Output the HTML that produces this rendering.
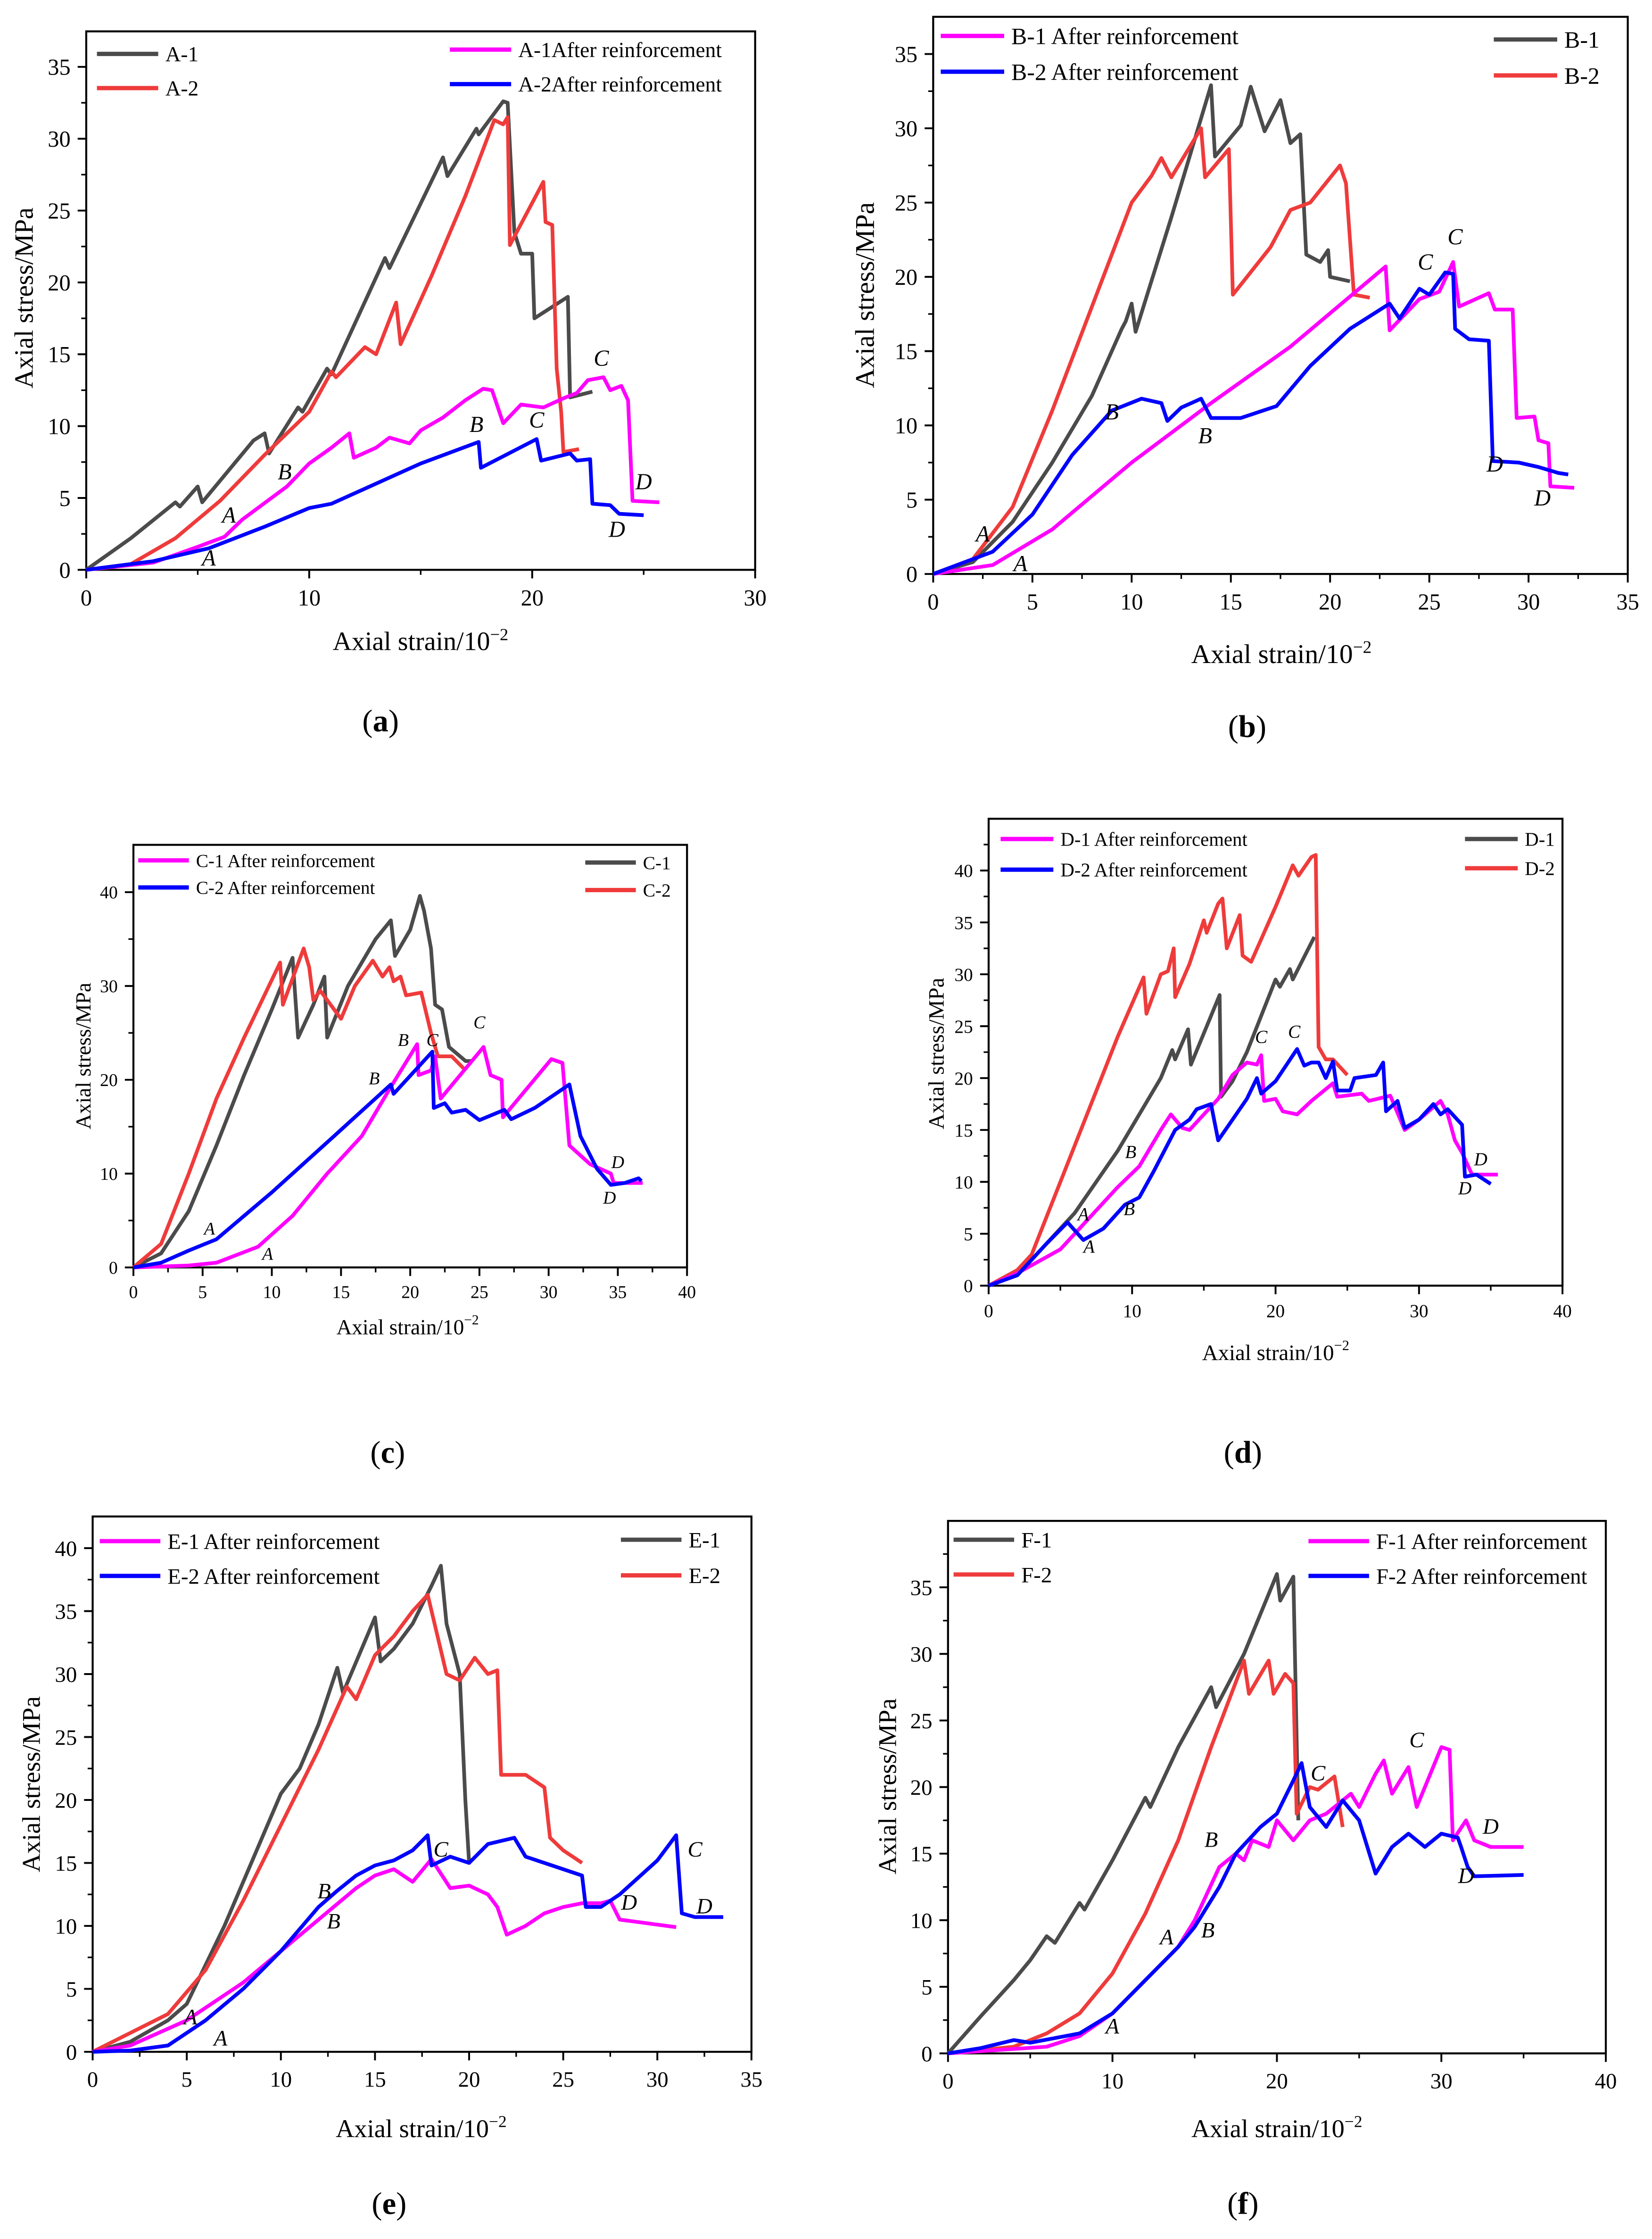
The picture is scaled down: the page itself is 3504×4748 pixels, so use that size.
<!DOCTYPE html>
<html><head><meta charset="utf-8"><style>
html,body{margin:0;padding:0;background:#fff}
svg{display:block}
text{font-family:"Liberation Serif",serif;fill:#000}
</style></head><body>
<svg id="fig" width="3504" height="4748" viewBox="0 0 1159 1570.5" preserveAspectRatio="none" xmlns="http://www.w3.org/2000/svg"></svg>
<script>
// ---- data arrays (strain /10^-2, stress MPa) ----
const a_A1=[[0,0],[2,2.2],[4,4.7],[4.2,4.4],[5,5.8],[5.2,4.7],[7.5,9],[8,9.5],[8.2,8.1],[9.5,11.3],[9.7,11],[10.8,14],[11,13.6],[13.4,21.7],[13.6,21],[16,28.7],[16.2,27.4],[17.5,30.7],[17.6,30.3],[18.7,32.6],[18.9,32.5],[19.2,23.5],[19.5,22],[20,22],[20.1,17.5],[21.6,19],[21.7,12],[22.7,12.4]];
const a_A2=[[0,0],[2,0.4],[4,2.2],[6,4.8],[8,8],[10,11],[11,13.8],[11.2,13.4],[12.5,15.5],[13,15],[13.9,18.6],[14.1,15.7],[15.5,20.5],[17,26],[18.3,31.3],[18.7,31],[18.9,31.5],[19,22.6],[20.5,27],[20.6,24.2],[20.9,24],[21.1,14],[21.3,11],[21.4,8.2],[22.1,8.4]];
const a_A1r=[[0,0],[3,0.5],[5,1.6],[6.2,2.3],[7,3.5],[9,5.8],[10,7.4],[11,8.5],[11.8,9.5],[12,7.8],[13,8.5],[13.6,9.2],[14.5,8.8],[15,9.7],[16,10.6],[17,11.8],[17.8,12.6],[18.2,12.5],[18.7,10.2],[19.5,11.5],[20.5,11.3],[21.5,12],[22,12.3],[22.5,13.2],[23.2,13.4],[23.5,12.5],[24,12.8],[24.3,11.8],[24.5,4.8],[25.7,4.7]];
const a_A2r=[[0,0],[3,0.6],[5.5,1.5],[8,3],[10,4.3],[11,4.6],[15,7.4],[17.6,8.9],[17.7,7.1],[20.2,9.1],[20.4,7.6],[21.7,8.1],[22,7.6],[22.6,7.7],[22.7,4.6],[23.5,4.5],[23.9,3.9],[25,3.8]];
const b_B1=[[0,0],[2,0.8],[4,3.5],[6,7.5],[8,12],[9.5,16.5],[9.7,17],[10,18.2],[10.2,16.3],[12,24],[14,32.9],[14.2,28.1],[15.5,30.2],[16,32.8],[16.7,29.8],[17.5,31.9],[18,29],[18.5,29.6],[18.8,21.5],[19.5,21],[19.9,21.8],[20,20],[21,19.7]];
const b_B2=[[0,0],[2,1],[4,4.5],[6,11],[8,18],[10,25],[11,26.8],[11.5,28],[12,26.7],[13.5,30],[13.7,26.7],[14.9,28.6],[15.1,18.8],[17,22],[18,24.5],[19,25],[20.5,27.5],[20.8,26.3],[21.2,18.8],[22,18.6]];
const b_B1r=[[0,0],[3,0.6],[6,3],[10,7.5],[14,11.5],[18,15.3],[22.8,20.7],[23,16.4],[24.5,18.5],[25.5,19],[26.2,21],[26.5,18],[28,18.9],[28.3,17.8],[29.2,17.8],[29.4,10.5],[30.3,10.6],[30.5,9],[31,8.8],[31.1,5.9],[32.3,5.8]];
const b_B2r=[[0,0],[3,1.5],[5,4],[7,8],[9,11],[10.5,11.8],[11.5,11.5],[11.8,10.3],[12.5,11.2],[13.5,11.8],[14,10.5],[15.5,10.5],[17.3,11.3],[19,14],[21,16.5],[23,18.2],[23.5,17.2],[24.5,19.2],[25,18.8],[25.8,20.3],[26.2,20.2],[26.3,16.5],[27,15.8],[28,15.7],[28.2,7.6],[29.5,7.5],[30.5,7.2],[31.5,6.8],[32,6.7]];
const c_C1=[[0,0],[2,1.5],[4,6],[6,13],[8,20.5],[10,27.5],[11.5,33],[11.9,24.5],[13,28],[13.8,31],[14,24.5],[15.5,30],[17.5,35],[18.6,37],[18.9,33.2],[20,36],[20.7,39.6],[21,38],[21.5,34],[21.8,28],[22.3,27.5],[22.8,23.5],[24,22],[24.5,22]];
const c_C2=[[0,0],[2,2.5],[4,10],[6,18],[8,24.5],[10.6,32.5],[10.8,28],[12.3,34],[12.7,32],[13,28.5],[13.5,29.5],[14.5,27.5],[15,26.5],[16,30],[17.3,32.7],[18,31],[18.5,32],[18.8,30.5],[19.3,31],[19.7,29],[20.8,29.3],[21.5,25],[22,22.5],[23,22.5],[24,21]];
const c_C1r=[[0,0],[4,0.2],[6,0.5],[9,2.2],[11.5,5.5],[14,10],[16.5,14],[18.5,19],[20.5,23.8],[20.6,20.5],[21.5,21],[21.8,22.5],[22.2,18],[25.3,23.5],[25.8,20.5],[26.6,20],[26.7,16],[30.2,22.2],[31,21.8],[31.5,13],[33,11],[34.5,10],[34.7,9],[36.8,9]];
const c_C2r=[[0,0],[2,0.5],[4,1.8],[6,3],[10,8],[14.5,14],[18.6,19.5],[18.8,18.5],[21.6,23],[21.7,17],[22.5,17.5],[23,16.5],[24,16.8],[25,15.7],[26.8,16.8],[27.3,15.8],[29,17],[31.5,19.5],[32.3,14],[33.5,10.5],[34.5,8.8],[35.5,9],[36.5,9.5],[36.7,9.2]];
const d_D1=[[0,0],[2,1],[4,4],[6,7],[8,11],[9,13],[12,20],[12.8,22.7],[13,21.8],[13.9,24.7],[14.1,21.3],[16.1,28],[16.2,18.2],[17,19.7],[18,22.5],[20,29.5],[20.3,28.8],[21,30.5],[21.2,29.5],[22.7,33.6]];
const d_D2=[[0,0],[2,1.5],[3,3],[5,10],[7,17],[9,24],[10.8,29.7],[11,26.2],[12,30],[12.5,30.3],[12.9,32.5],[13,27.8],[14,31],[15,35.2],[15.2,34],[16,36.8],[16.3,37.3],[16.6,32.5],[17.5,35.7],[17.7,31.8],[18.3,31.2],[20,36.5],[21.2,40.5],[21.6,39.5],[22.5,41.3],[22.8,41.5],[23,23],[23.5,21.8],[24,21.8],[25,20.3]];
const d_D1r=[[0,0],[2,1.2],[5,3.5],[7,6.5],[9,9.5],[10.5,11.5],[12,15],[12.7,16.5],[13.5,15.2],[14,15],[16,18],[17,20.3],[18,21.5],[18.7,21.3],[19,22.2],[19.2,17.8],[20,18],[20.5,16.8],[21.5,16.5],[22.5,17.8],[24,19.5],[24.3,18.2],[26,18.5],[26.5,17.8],[28,18.3],[29,15],[30,16],[31.5,17.8],[32,16.5],[32.5,14],[33,12.8],[33.7,10.7],[35.5,10.7]];
const d_D2r=[[0,0],[2,1],[4,4],[5.5,6.1],[6.6,4.4],[8,5.5],[9.5,7.8],[10.5,8.5],[11.5,11],[13,15],[14,16],[14.5,17],[15.5,17.5],[16,14],[17,16],[18,18],[18.7,20],[19,18.5],[20,19.7],[21.5,22.8],[22,21.2],[22.5,21.5],[23,21.5],[23.5,20],[24,21.6],[24.3,18.8],[25.2,18.8],[25.5,20],[27,20.3],[27.5,21.5],[27.7,16.8],[28.5,17.8],[29,15.2],[30,16],[31,17.5],[31.5,16.5],[32,17],[33,15.5],[33.2,10.5],[34,10.7],[35,9.8]];
const e_E1=[[0,0],[2,0.8],[4,2.5],[5,3.8],[7,10],[9,17],[10,20.5],[11,22.5],[12,26],[13,30.5],[13.3,28.5],[15,34.5],[15.3,31],[16,32],[17,34],[18,37],[18.5,38.6],[18.8,34],[19.5,30],[19.8,20],[20,15]];
const e_E2=[[0,0],[2,1.5],[4,3],[6,6.5],[8,12],[10,18],[12,24],[13.5,29],[14,28],[15,31.5],[16,33],[17,35],[17.8,36.3],[18.8,30],[19.5,29.5],[20.3,31.3],[21,30],[21.5,30.3],[21.7,22],[23,22],[24,21],[24.3,17],[25,16],[25.5,15.5],[26,15]];
const e_E1r=[[0,0],[2,0.5],[5,2.5],[8,5.5],[10,8],[12,10.5],[14,13],[15,14],[16,14.5],[17,13.5],[18,15.3],[19,13],[20,13.2],[21,12.5],[21.5,11.5],[22,9.3],[23,10],[24,11],[25,11.5],[26,11.8],[27,11.8],[27.5,12],[28,10.5],[29,10.3],[30,10.1],[31,9.9]];
const e_E2r=[[0,0],[2,0.1],[4,0.5],[6,2.5],[8,5],[10,8],[12,11.5],[13,12.8],[14,14],[15,14.8],[16,15.2],[17,16],[17.8,17.2],[18,14.8],[19,15.5],[20,15],[21,16.5],[22.4,17],[23,15.5],[24,15],[25,14.5],[26,14],[26.2,11.5],[27,11.5],[28,12.5],[30,15.2],[31,17.2],[31.3,11],[32,10.7],[33.5,10.7]];
const f_F1=[[0,0],[2,2.8],[4,5.5],[5,7],[6,8.8],[6.5,8.3],[8,11.3],[8.3,10.8],[10,14.5],[12,19.2],[12.3,18.5],[14,23],[16,27.5],[16.3,26],[18,30],[20,36],[20.2,34],[21,35.8],[21.3,17.5]];
const f_F2=[[0,0],[4,0.5],[6,1.5],[8,3],[10,6],[12,10.5],[14,16],[16,23],[18,29.5],[18.3,27],[19.5,29.5],[19.8,27],[20.5,28.5],[21,27.8],[21.2,18],[22,20],[22.5,19.8],[23.5,20.8],[24,17]];
const f_F1r=[[0,0],[6,0.5],[8,1.3],[10,3],[12,5.5],[14,8],[15,10],[16.5,14],[17.5,15],[18,14.5],[18.5,16],[19.5,15.5],[20,17.5],[21,16],[22,17.5],[23,18],[24.5,19.5],[25,18.5],[26,21],[26.5,22],[27,19.5],[28,21.5],[28.5,18.5],[29,20],[30,23],[30.5,22.8],[30.7,16],[31.5,17.5],[32,16],[33,15.5],[35,15.5]];
const f_F2r=[[0,0],[2,0.4],[4,1],[5,0.8],[8,1.5],[10,3],[12,5.5],[14,8],[15,9.5],[16.5,12.5],[17.5,15],[19,17],[20,18],[21,20.5],[21.5,21.8],[22,18.5],[23,17],[24,19],[25,17.5],[26,13.5],[27,15.5],[28,16.5],[29,15.5],[30,16.5],[31,16.2],[31.2,15.5],[31.6,14],[32,13.3],[35,13.4]];
// point labels [letter, x, y]
const a_pts=[["A",6.4,3.3],["A",5.5,0.3],["B",8.9,6.3],["B",17.5,9.6],["C",20.2,9.9],["C",23.1,14.2],["D",25,5.6],["D",23.8,2.3]];
const b_pts=[["A",2.5,2.2],["A",4.4,0.2],["B",9,10.4],["B",13.7,8.8],["C",24.8,20.5],["C",26.3,22.2],["D",28.3,6.9],["D",30.7,4.6]];
const c_pts=[["A",5.5,3.5],["A",9.7,0.8],["B",19.5,23.6],["B",17.4,19.5],["C",21.6,23.6],["C",25,25.5],["D",35,10.6],["D",34.4,6.8]];
const d_pts=[["A",6.6,6.3],["A",7,3.2],["B",9.9,12.3],["B",9.8,6.8],["C",19,23.4],["C",21.3,23.9],["D",34.3,11.6],["D",33.2,8.8]];
const e_pts=[["A",5.2,2.2],["A",6.8,0.5],["B",12.3,12.2],["B",12.8,9.8],["C",18.5,15.5],["C",32,15.5],["D",28.5,11.3],["D",32.5,11]];
const f_pts=[["A",13.3,8.2],["A",10,1.5],["B",16,15.5],["B",15.8,8.7],["C",22.5,20.5],["C",28.5,23],["D",33,16.5],["D",31.5,12.8]];

const GRAY="#4b4b4b",RED="#ef3b3b",MAG="#ff00ff",BLUE="#0000ff";
const NS="http://www.w3.org/2000/svg";
const svg=document.getElementById('fig');
function el(tag,attrs,parent){const e=document.createElementNS(NS,tag);for(const k in attrs)e.setAttribute(k,attrs[k]);(parent||svg).appendChild(e);return e;}

const panels=[
 {id:"a",L:60.5,R:529.8,T:22,B:399.7,xmax:30,xmaj:10,xmin:5,ymax:35,ymaj:5,ymin:2.5,yPer5:50.4,fs:16,tfs:18.5,lfs:15,
  series:[[a_A1,GRAY],[a_A2,RED],[a_A1r,MAG],[a_A2r,BLUE]],pts:a_pts,
  leg:[["A-1",GRAY,68,37.8],["A-2",RED,68,61.8],["A-1After reinforcement",MAG,315.6,34.8],["A-2After reinforcement",BLUE,315.6,59]],legW:43,
  xt:[295,456],yt:[23,209],cap:[267,513]},
 {id:"b",L:654.7,R:1142,T:11.8,B:402.6,xmax:35,xmaj:5,xmin:2.5,ymax:35,ymaj:5,ymin:2.5,yPer5:52.1,fs:16,tfs:19,lfs:16.5,
  series:[[b_B1,GRAY],[b_B2,RED],[b_B1r,MAG],[b_B2r,BLUE]],pts:b_pts,
  leg:[["B-1 After reinforcement",MAG,660,25.2],["B-2 After reinforcement",BLUE,660,50.3],["B-1",GRAY,1048,27.7],["B-2",RED,1048,52.9]],legW:44.5,
  xt:[899,465],yt:[613,207],cap:[875,517]},
 {id:"c",L:93.6,R:482,T:592.6,B:889,xmax:40,xmaj:5,xmin:2.5,ymax:40,ymaj:10,ymin:5,yPer5:32.9,fs:12.5,tfs:15,lfs:13,
  series:[[c_C1,GRAY],[c_C2,RED],[c_C1r,MAG],[c_C2r,BLUE]],pts:c_pts,
  leg:[["C-1 After reinforcement",MAG,97,603.5],["C-2 After reinforcement",BLUE,97,622.5],["C-1",GRAY,410.6,605],["C-2",RED,410.6,624.3]],legW:35.5,
  xt:[286,936],yt:[63.5,740.7],cap:[272,1026]},
 {id:"d",L:693.6,R:1096.2,T:574.3,B:901.8,xmax:40,xmaj:10,xmin:5,ymax:45,ymaj:5,ymin:2.5,yPer5:36.4,fs:13,tfs:15.5,lfs:13.5,
  series:[[d_D1,GRAY],[d_D2,RED],[d_D1r,MAG],[d_D2r,BLUE]],pts:d_pts,
  leg:[["D-1 After reinforcement",MAG,702,588.5],["D-2 After reinforcement",BLUE,702,610],["D-1",GRAY,1027.8,588.5],["D-2",RED,1027.8,609]],legW:37,
  xt:[895,954],yt:[662,739],cap:[872,1026]},
 {id:"e",L:65,R:527.2,T:1063.7,B:1439.2,xmax:35,xmaj:5,xmin:2.5,ymax:40,ymaj:5,ymin:2.5,yPer5:44.16,fs:15.5,tfs:18,lfs:15.5,
  series:[[e_E1,GRAY],[e_E2,RED],[e_E1r,MAG],[e_E2r,BLUE]],pts:e_pts,
  leg:[["E-1 After reinforcement",MAG,70,1081],["E-2 After reinforcement",BLUE,70,1105.4],["E-1",GRAY,435.6,1080],["E-2",RED,435.6,1105]],legW:42.5,
  xt:[295.5,1499],yt:[28,1251.5],cap:[273,1553]},
 {id:"f",L:665.1,R:1126.6,T:1066.8,B:1440.3,xmax:40,xmaj:10,xmin:5,ymax:40,ymaj:5,ymin:2.5,yPer5:46.7,fs:15.5,tfs:18,lfs:15.5,
  series:[[f_F1,GRAY],[f_F2,RED],[f_F1r,MAG],[f_F2r,BLUE]],pts:f_pts,
  leg:[["F-1",GRAY,669,1080],["F-2",RED,669,1104.4],["F-1 After reinforcement",MAG,918,1081],["F-2 After reinforcement",BLUE,918,1105.4]],legW:42.5,
  xt:[895.8,1499],yt:[628.6,1253],cap:[872,1553]}
];

panels.forEach(p=>{
  const g=el('g',{});
  
  
  const X=v=>p.L+(p.R-p.L)*v/p.xmax;
  const Y=v=>p.B-v*p.yPer5/5;
  const fr=el('rect',{x:p.L,y:p.T,width:p.R-p.L,height:p.B-p.T,fill:'none',stroke:'#000','stroke-width':1.4},g);
  
  
  for(let v=0;v<=p.xmax+1e-6;v+=p.xmaj){
    el('line',{x1:X(v),x2:X(v),y1:p.B,y2:p.B+6,stroke:'#000','stroke-width':1.3},g);
    const t=el('text',{x:X(v),y:p.B+p.fs+9,'font-size':p.fs,'text-anchor':'middle'},g);
    t.textContent=v;
    
    
  }
  for(let v=p.xmin;v<p.xmax;v+=p.xmaj){el('line',{x1:X(v),x2:X(v),y1:p.B,y2:p.B+3.5,stroke:'#000','stroke-width':1.1},g);}
  const ylim=Math.min(p.ymax,Math.floor((p.B-p.T)/p.yPer5*5+1e-6));
  for(let v=0;v<=ylim;v+=p.ymaj){
    el('line',{x1:p.L-6,x2:p.L,y1:Y(v),y2:Y(v),stroke:'#000','stroke-width':1.3},g);
    const t=el('text',{x:p.L-11,y:Y(v)+p.fs*0.35,'font-size':p.fs,'text-anchor':'end'},g);
    t.textContent=v;
    
    
  }
  for(let v=p.ymin;v<=ylim;v+=p.ymaj){el('line',{x1:p.L-3.5,x2:p.L,y1:Y(v),y2:Y(v),stroke:'#000','stroke-width':1.1},g);}
  p.series.forEach(([d,c],i)=>{
    const pl=el('polyline',{points:d.map(q=>X(q[0]).toFixed(2)+','+Y(q[1]).toFixed(2)).join(' '),fill:'none',stroke:c,'stroke-width':2.6,'stroke-linejoin':'round'},g);
    
    
  });
  p.pts.forEach(([s,x,y])=>{
    const t=el('text',{x:X(x),y:Y(y),'font-size':p.fs,'font-style':'italic','text-anchor':'middle'},g);
    t.textContent=s;
    
    
  });
  p.leg.forEach(([s,c,x,y])=>{
    const ln=el('line',{x1:x,x2:x+p.legW,y1:y,y2:y,stroke:c,'stroke-width':3},g);
    
    
    const t=el('text',{x:x+p.legW+5,y:y+p.lfs*0.35,'font-size':p.lfs},g);
    t.textContent=s;
    
    
  });
  const xt=el('text',{x:p.xt[0],y:p.xt[1],'font-size':p.tfs,'text-anchor':'middle'},g);
  xt.innerHTML='Axial strain/10<tspan dy="-7" font-size="'+(p.tfs*0.65)+'">−2</tspan>';
  
  
  const yt=el('text',{x:0,y:0,'font-size':p.tfs,'text-anchor':'middle',transform:'translate('+p.yt[0]+','+p.yt[1]+') rotate(-90)'},g);
  yt.textContent='Axial stress/MPa';
  
  
  const cap=el('text',{x:p.cap[0],y:p.cap[1],'font-size':22,'text-anchor':'middle'},g);
  cap.innerHTML='(<tspan font-weight="bold">'+p.id+'</tspan>)';
  
  
});
</script>
</body></html>
